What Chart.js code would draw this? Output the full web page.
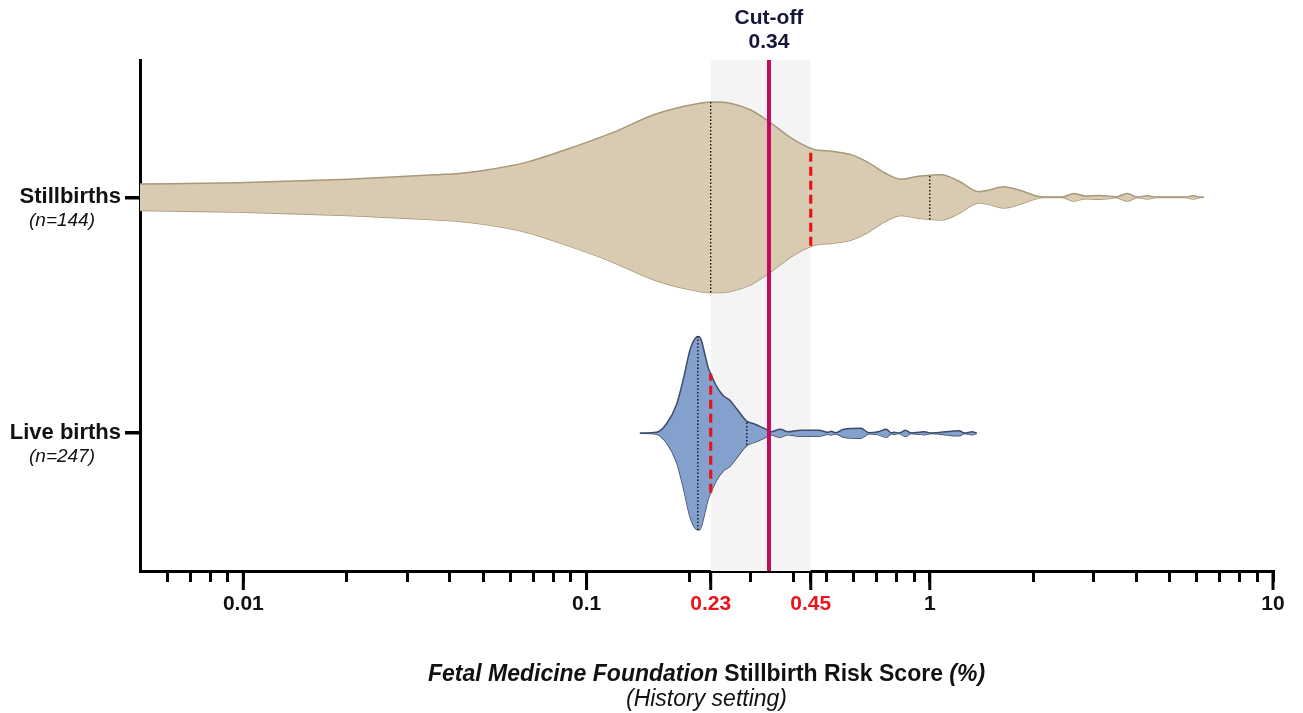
<!DOCTYPE html>
<html lang="en">
<head>
<meta charset="UTF-8">
<title>Stillbirth risk score</title>
<script src="https://cdn.jsdelivr.net/npm/chart.js"></script>
<style>
  html, body { margin: 0; padding: 0; background: #fff; }
  #wrap { width: 1303px; height: 713px; }
</style>
</head>
<body>
<div id="wrap"><canvas id="grafico"></canvas></div>
<script>
// risk score (%) along the violin and its half width (in category units)
const stillX = [0.0049, 0.0096, 0.0202, 0.037, 0.0424, 0.0496, 0.0667, 0.0891, 0.119, 0.160,
  0.214, 0.235, 0.262, 0.300, 0.344, 0.393, 0.456, 0.525, 0.590, 0.661, 0.736, 0.826, 0.926, 1.01,
  1.08, 1.21, 1.39, 1.49, 1.64, 1.82, 2.03, 2.15, 2.43, 2.63, 2.84, 3.12, 3.34, 3.48, 3.76, 4.03,
  4.31, 4.55, 5.58, 5.84, 6.12, 6.29];
const stillW = [0.056, 0.062, 0.077, 0.096, 0.101, 0.113, 0.148, 0.207, 0.274, 0.354,
  0.399, 0.404, 0.399, 0.371, 0.316, 0.253, 0.205, 0.194, 0.181, 0.148, 0.105, 0.077, 0.089, 0.094,
  0.096, 0.070, 0.024, 0.031, 0.045, 0.031, 0.007, 0.001, 0.001, 0.016, 0.006, 0.008, 0.005, 0.001, 0.016, 0.001,
  0.007, 0.001, 0.001, 0.007, 0.001, 0];

const liveX = [0.143, 0.160, 0.171, 0.183, 0.192, 0.200, 0.207, 0.212, 0.216, 0.221, 0.226, 0.230,
  0.240, 0.250, 0.262, 0.274, 0.287, 0.294, 0.307, 0.321, 0.336, 0.344, 0.367, 0.386, 0.420, 0.444,
  0.475, 0.505, 0.515, 0.532, 0.562, 0.630, 0.665, 0.707, 0.747, 0.772, 0.787, 0.815, 0.849, 0.883,
  0.932, 0.965, 1.01, 1.22, 1.26, 1.33, 1.37];
const liveW = [0, 0.004, 0.040, 0.123, 0.238, 0.351, 0.401, 0.410, 0.394, 0.337, 0.280, 0.252,
  0.195, 0.160, 0.139, 0.103, 0.065, 0.050, 0.040, 0.028, 0.014, 0.006, 0.017, 0.006, 0.013, 0.013,
  0.013, 0.004, 0.008, 0.002, 0.017, 0.021, 0.002, 0.006, 0.017, 0.002, 0.004, 0.001, 0.013, 0.001,
  0.004, 0.006, 0.001, 0.011, 0.001, 0.006, 0];

// quartiles: position and half height of the line
const stillQ = [0.23, 0.45, 1.0];
const stillQW = [0.404, 0.205, 0.094];
const liveQ = [0.211, 0.23, 0.293];
const liveQW = [0.41, 0.252, 0.05];

const categories = ['Live births', 'Stillbirths'];
const samples = ['(n=247)', '(n=144)'];
const xTicks = [0.006, 0.007, 0.008, 0.009, 0.01, 0.02, 0.03, 0.04, 0.05, 0.06, 0.07, 0.08, 0.09,
  0.1, 0.2, 0.23, 0.3, 0.4, 0.45, 0.5, 0.6, 0.7, 0.8, 0.9, 1, 2, 3, 4, 5, 6, 7, 8, 9, 10];
const xLabels = [0.01, 0.1, 0.23, 0.45, 1, 10];
const xRed = [0.23, 0.45];
const cutOff = 0.34;
const band = [0.23, 0.45];

const Y_MIN = -0.584;
const Y_MAX = 1.582;
const FONT = '"Liberation Sans", Arial, sans-serif';

function violin(xs, ws, center, fill, line) {
  const upper = xs.map((x, i) => ({ x: x, y: center + ws[i] }));
  const lower = xs.map((x, i) => ({ x: x, y: center - ws[i] }));
  const base = { borderColor: line, borderWidth: 1.5, pointRadius: 0, cubicInterpolationMode: 'monotone', order: 3 };
  return [
    Object.assign({ data: upper, fill: '+1', backgroundColor: fill }, base),
    Object.assign({ data: lower, fill: false }, base)
  ];
}

function quartiles(qs, qw, center) {
  return qs.map((q, i) => {
    const red = i == 1;
    return {
      data: [{ x: q, y: center - qw[i] }, { x: q, y: center + qw[i] }],
      borderColor: red ? '#e8141b' : '#111',
      borderWidth: red ? 3.2 : 1.4,
      borderDash: red ? [9, 5] : [1.5, 2],
      pointRadius: 0,
      fill: false,
      order: 2
    };
  });
}

const datasets = [
  {
    data: [{ x: band[0], y: Y_MAX }, { x: band[1], y: Y_MAX }],
    fill: 'start', backgroundColor: '#f4f4f4', borderWidth: 0, pointRadius: 0, order: 5
  },
  ...violin(stillX, stillW, 1, '#d9cbb1', '#a8987a'),
  ...violin(liveX, liveW, 0, '#84a0cd', '#3d4c6a'),
  ...quartiles(stillQ, stillQW, 1),
  ...quartiles(liveQ, liveQW, 0),
  {
    data: [{ x: cutOff, y: Y_MIN }, { x: cutOff, y: Y_MAX }],
    borderColor: '#c4085f', borderWidth: 4, pointRadius: 0, fill: false, order: 1
  }
];

const extras = {
  id: 'extras',
  afterDraw(chart) {
    const { ctx, chartArea, scales } = chart;
    const x = scales.x, y = scales.y;
    ctx.save();

    // longer ticks on labelled values
    ctx.strokeStyle = '#000';
    ctx.lineWidth = 3;
    xLabels.forEach(v => {
      const px = x.getPixelForValue(v);
      ctx.beginPath();
      ctx.moveTo(px, chartArea.bottom);
      ctx.lineTo(px, chartArea.bottom + 19);
      ctx.stroke();
    });

    // sample sizes under the category names
    ctx.fillStyle = '#111';
    ctx.textAlign = 'center';
    ctx.textBaseline = 'middle';
    ctx.font = 'italic 19px ' + FONT;
    samples.forEach((t, i) => ctx.fillText(t, 62, y.getPixelForValue(i) + 23));

    // cut-off label
    const cx = x.getPixelForValue(cutOff);
    ctx.fillStyle = '#16163a';
    ctx.font = 'bold 21px ' + FONT;
    ctx.fillText('Cut-off', cx, 18);
    ctx.fillText(String(cutOff), cx, 42);

    // axis title
    const parts = [
      ['Fetal Medicine Foundation ', 'italic bold 23px '],
      ['Stillbirth Risk Score ', 'bold 23px '],
      ['(%)', 'italic bold 23px ']
    ];
    let total = 0;
    parts.forEach(p => { ctx.font = p[1] + FONT; total += ctx.measureText(p[0]).width; });
    const mid = (chartArea.left + chartArea.right) / 2;
    let tx = mid - total / 2;
    ctx.fillStyle = '#111';
    ctx.textAlign = 'left';
    parts.forEach(p => {
      ctx.font = p[1] + FONT;
      ctx.fillText(p[0], tx, 675);
      tx += ctx.measureText(p[0]).width;
    });
    ctx.textAlign = 'center';
    ctx.font = 'italic 23px ' + FONT;
    ctx.fillText('(History setting)', mid, 700);
    ctx.restore();
  }
};

new Chart(document.getElementById('grafico'), {
  type: 'line',
  data: { datasets: datasets },
  options: {
    responsive: true,
    maintainAspectRatio: false,
    animation: false,
    events: [],
    layout: { padding: { top: 60, right: 30, left: 0, bottom: 0 } },
    plugins: { legend: { display: false }, tooltip: { enabled: false } },
    scales: {
      x: {
        type: 'logarithmic',
        min: 0.005,
        max: 10,
        border: { color: '#000', width: 3 },
        grid: { drawOnChartArea: false, color: '#000', lineWidth: 3, tickLength: 11 },
        afterBuildTicks: s => { s.ticks = xTicks.map(v => ({ value: v })); },
        afterFit: s => { s.height = 142; },
        ticks: {
          autoSkip: false,
          maxRotation: 0,
          padding: 10,
          font: { family: FONT, size: 21, weight: 'bold' },
          color: c => xRed.includes(c.tick.value) ? '#e8141b' : '#111',
          callback: v => xLabels.includes(v) ? String(v) : ''
        }
      },
      y: {
        type: 'linear',
        min: Y_MIN,
        max: Y_MAX,
        border: { color: '#000', width: 3 },
        grid: { drawOnChartArea: false, color: '#000', lineWidth: 3.5, tickLength: 15 },
        afterBuildTicks: s => { s.ticks = [{ value: 0 }, { value: 1 }]; },
        afterFit: s => { s.width = 140; },
        ticks: {
          padding: 4,
          font: { family: FONT, size: 22, weight: 'bold' },
          color: '#111',
          callback: v => categories[v]
        }
      }
    }
  },
  plugins: [extras]
});
</script>
</body>
</html>
